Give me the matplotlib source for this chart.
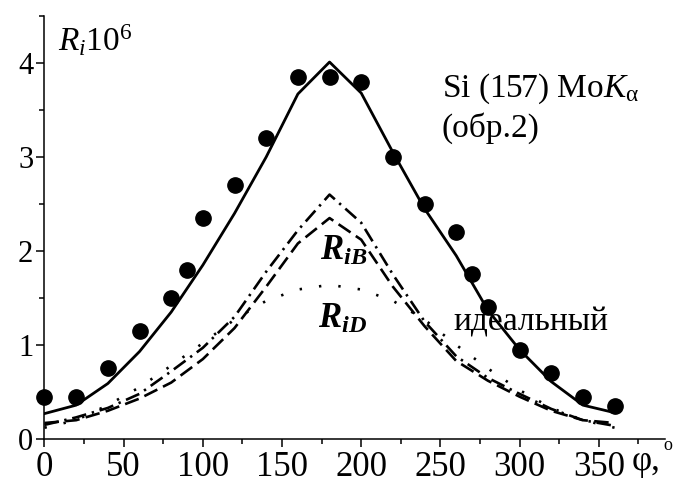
import matplotlib
matplotlib.use('Agg')
import matplotlib.pyplot as plt
from matplotlib.ticker import MultipleLocator

# шрифт как в оригинале (Times-подобный)
plt.rcParams['font.family'] = ['Liberation Serif', 'DejaVu Serif']
plt.rcParams['mathtext.fontset'] = 'custom'
plt.rcParams['mathtext.rm'] = 'Liberation Serif'
plt.rcParams['mathtext.it'] = 'Liberation Serif:italic'
plt.rcParams['mathtext.bf'] = 'Liberation Serif:bold'
plt.rcParams['mathtext.bfit'] = 'Liberation Serif:bold:italic'

# данные
phi = [0, 20, 40, 60, 80, 100, 120, 140, 160, 180, 200, 220, 240, 260, 280, 300, 320, 340, 360]
r_total = [0.27, 0.36, 0.59, 0.93, 1.35, 1.85, 2.4, 3.0, 3.67, 4.01, 3.68, 3.05, 2.45, 1.95, 1.37, 0.95, 0.61, 0.36, 0.28]
r_dashdot = [0.15, 0.23, 0.33, 0.48, 0.72, 0.97, 1.3, 1.78, 2.22, 2.6, 2.3, 1.75, 1.25, 0.88, 0.65, 0.48, 0.32, 0.2, 0.14]
r_dashed = [0.17, 0.2, 0.3, 0.43, 0.6, 0.85, 1.18, 1.62, 2.08, 2.35, 2.12, 1.62, 1.2, 0.83, 0.62, 0.45, 0.3, 0.2, 0.17]
r_dotted = [0.12, 0.2, 0.36, 0.55, 0.78, 1.02, 1.27, 1.47, 1.59, 1.64, 1.59, 1.47, 1.27, 1.0, 0.75, 0.52, 0.33, 0.2, 0.12]

# эксперимент (точки)
phi_exp = [0, 20, 40, 60, 80, 90, 100, 120, 140, 160, 180, 200, 220, 240, 260, 270, 280, 300, 320, 340, 360]
r_exp = [0.45, 0.45, 0.75, 1.15, 1.5, 1.8, 2.35, 2.7, 3.2, 3.85, 3.85, 3.8, 3.0, 2.5, 2.2, 1.75, 1.4, 0.95, 0.7, 0.45, 0.35]

fig = plt.figure(figsize=(6.77, 4.84), dpi=100)
ax = fig.add_axes([0.0657, 0.093, 0.917, 0.874])

ax.plot(phi, r_total, color='k', lw=2.0)
ax.plot(phi, r_dashdot, color='k', lw=1.9, linestyle=(0, (5.5, 2.2, 0.9, 2.2)))
ax.plot(phi, r_dashed, color='k', lw=1.9, linestyle=(0, (5.5, 2.4)))
ax.plot(phi, r_dotted, color='k', lw=1.9, linestyle=(0, (0.9, 6.5)))
ax.plot(phi_exp, r_exp, 'o', color='k', markersize=11, clip_on=False)

ax.set_xlim(0, 392)
ax.set_ylim(0, 4.5)
ax.spines['top'].set_visible(False)
ax.spines['right'].set_visible(False)
ax.spines['left'].set_linewidth(1.1)
ax.spines['bottom'].set_linewidth(1.1)

ax.xaxis.set_major_locator(MultipleLocator(50))
ax.xaxis.set_minor_locator(MultipleLocator(25))
ax.yaxis.set_major_locator(MultipleLocator(1))
ax.yaxis.set_minor_locator(MultipleLocator(0.5))
ax.tick_params(axis='x', which='major', length=6, width=1.1, labelsize=25, pad=3)
ax.tick_params(axis='x', which='minor', length=3.5, width=1.1)
ax.tick_params(axis='y', which='major', length=6, width=1.1, labelsize=22, pad=2)
ax.tick_params(axis='y', which='minor', length=3.5, width=1.1)
ax.set_xticks([0, 50, 100, 150, 200, 250, 300, 350])

# подписи
ax.text(8.5, 4.12, r'$R_{i}\mathrm{10}^{6}$', fontsize=24, va='baseline')
ax.text(251, 3.64, r'Si (157) Mo$K_{\mathrm{\alpha}}$', fontsize=24, va='baseline')
ax.text(251, 3.22, '(обр.2)', fontsize=24, va='baseline')
ax.text(174, 1.9, r'$\mathbfit{R}_{\mathbfit{iB}}$', fontsize=25, va='baseline')
ax.text(173, 1.18, r'$\mathbfit{R}_{\mathbfit{iD}}$', fontsize=25, va='baseline')
ax.text(258, 1.15, 'идеальный', fontsize=24, va='baseline')
ax.text(371, -0.33, 'φ,', fontsize=25, va='baseline', clip_on=False)
ax.text(391, -0.12, 'o', fontsize=13, va='baseline', clip_on=False)

plt.savefig('out.png', dpi=100)
